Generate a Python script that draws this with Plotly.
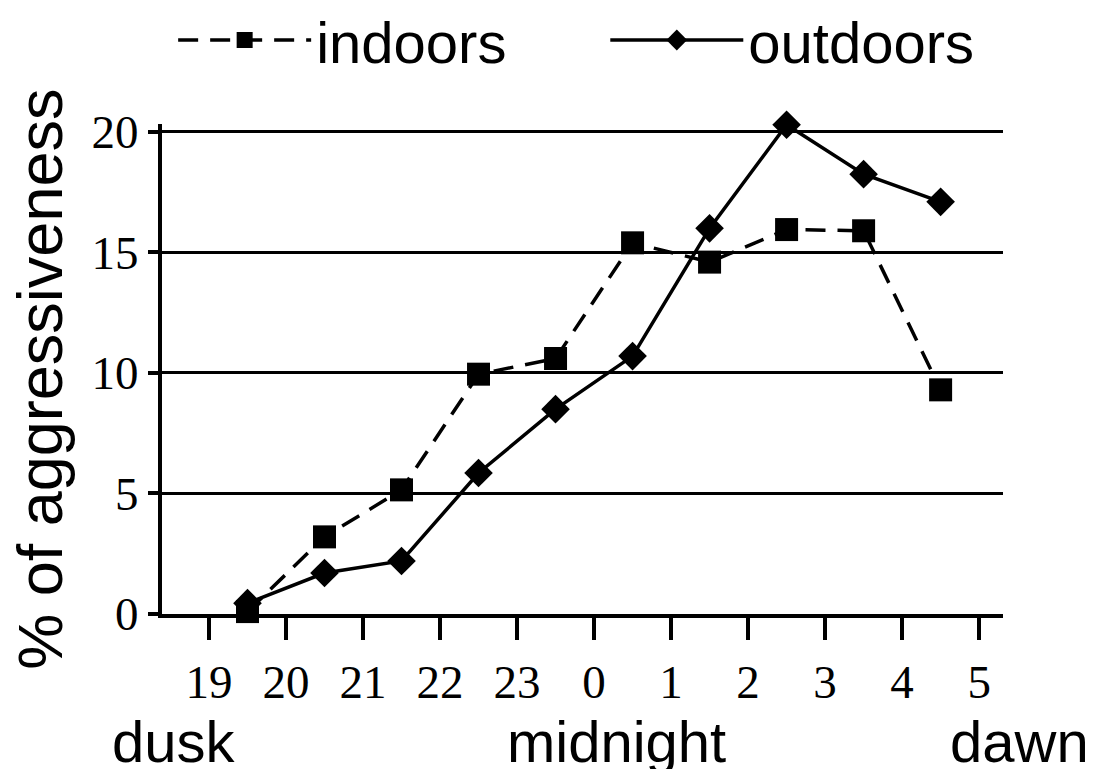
import plotly.graph_objects as go

hours = ["19", "20", "21", "22", "23", "0", "1", "2", "3", "4", "5"]
tick_pos = list(range(len(hours)))
point_pos = [0.5, 1.5, 2.5, 3.5, 4.5, 5.5, 6.5, 7.5, 8.5, 9.5]
indoors = [0.1, 3.2, 5.15, 9.95, 10.6, 15.4, 14.6, 15.95, 15.9, 9.3]
outdoors = [0.45, 1.7, 2.2, 5.85, 8.5, 10.7, 16.0, 20.3, 18.25, 17.1]

fig = go.Figure()
fig.add_trace(go.Scatter(
    x=point_pos, y=indoors, name="indoors", mode="lines+markers",
    line=dict(color="black", width=3.5, dash="20px,12px"),
    marker=dict(symbol="square", size=23, color="black"),
    cliponaxis=False, legend="legend",
))
fig.add_trace(go.Scatter(
    x=point_pos, y=outdoors, name="outdoors", mode="lines+markers",
    line=dict(color="black", width=3.5),
    marker=dict(symbol="diamond", size=22, color="black"),
    cliponaxis=False, legend="legend2",
))

legend_common = dict(
    orientation="h", xref="container", yref="container",
    xanchor="left", y=0.958, yanchor="middle",
    font=dict(family="Liberation Sans", size=58, color="black"),
    itemwidth=133, bgcolor="rgba(0,0,0,0)",
)

fig.update_layout(
    width=1101, height=769,
    margin=dict(l=154, r=106, t=116, b=163, autoexpand=False),
    plot_bgcolor="white", paper_bgcolor="white",
    font=dict(family="Liberation Sans", color="black"),
    legend=dict(x=0.150, **legend_common),
    legend2=dict(x=0.5425, **legend_common),
    showlegend=True,
)
fig.update_xaxes(
    range=[-0.61, 10.31], tickvals=tick_pos, ticktext=hours,
    showline=True, linecolor="black", linewidth=4,
    ticks="outside", ticklen=22, tickwidth=3.5, tickcolor="black",
    showgrid=False, zeroline=False, automargin=False,
    tickfont=dict(family="Liberation Serif", size=47, color="black"),
    ticklabelstandoff=2,
)
fig.update_yaxes(
    range=[0, 20.33], tickvals=[0, 5, 10, 15, 20],
    showline=True, linecolor="black", linewidth=4,
    ticks="outside", ticklen=10, tickwidth=3.5, tickcolor="black",
    showgrid=True, gridcolor="black", gridwidth=2.5, zeroline=False,
    automargin=False,
    tickfont=dict(family="Liberation Serif", size=47, color="black"),
)

fig.add_annotation(text="% of aggressiveness", xref="paper", yref="paper",
                   x=-0.145, y=0.478, textangle=-90, showarrow=False,
                   xanchor="center", yanchor="middle",
                   font=dict(family="Liberation Sans", size=63, color="black"))
for label, xp in [("dusk", 0.014), ("midnight", 0.541), ("dawn", 1.02)]:
    fig.add_annotation(text=label, xref="paper", yref="paper", x=xp, y=-0.261,
                       showarrow=False, xanchor="center", yanchor="middle",
                       font=dict(family="Liberation Sans", size=58, color="black"))

fig.write_html("out.html")
